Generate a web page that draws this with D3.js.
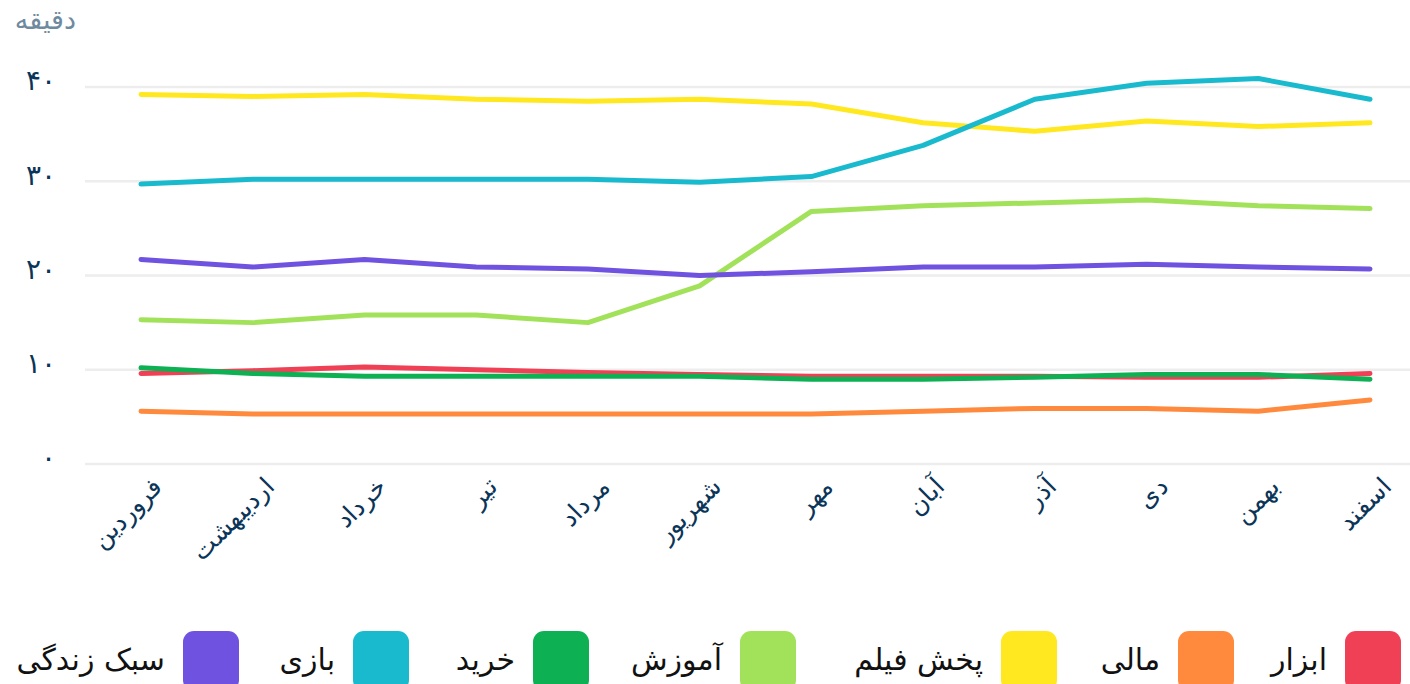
<!DOCTYPE html>
<html><head><meta charset="utf-8">
<script src="https://cdnjs.cloudflare.com/ajax/libs/d3/7.8.5/d3.min.js"></script>
<style>
html,body{margin:0;padding:0;background:#fff;overflow:hidden;}
svg{display:block;font-family:"DejaVu Sans","Noto Sans",sans-serif;}
</style></head>
<body><svg id="c" width="1410" height="684"></svg>
<script>
const months = ["فروردین","اردیبهشت","خرداد","تیر","مرداد","شهریور","مهر","آبان","آذر","دی","بهمن","اسفند"];
const yTicks = [0,10,20,30,40];
const seriesNames = ["ابزار","مالی","پخش فیلم","آموزش","خرید","بازی","سبک زندگی"];
const seriesColors = ["#ef4056","#ff8a3d","#ffe81f","#a2e25a","#0db154","#19bacd","#6f52e0"];
const abzar   = [9.6,9.9,10.3,10.0,9.7,9.5,9.3,9.3,9.3,9.2,9.2,9.6];
const mali    = [5.6,5.3,5.3,5.3,5.3,5.3,5.3,5.6,5.9,5.9,5.6,6.8];
const film    = [39.2,39.0,39.2,38.7,38.5,38.7,38.2,36.2,35.3,36.4,35.8,36.2];
const amuzesh = [15.3,15.0,15.8,15.8,15.0,18.9,26.8,27.4,27.7,28.0,27.4,27.1];
const kharid  = [10.2,9.6,9.3,9.3,9.3,9.3,9.0,9.0,9.2,9.5,9.5,9.0];
const bazi    = [29.7,30.2,30.2,30.2,30.2,29.9,30.5,33.8,38.7,40.4,40.9,38.7];
const sabk    = [21.7,20.9,21.7,20.9,20.7,20.0,20.4,20.9,20.9,21.2,20.9,20.7];
const seriesValues = [abzar,mali,film,amuzesh,kharid,bazi,sabk];
const yTitle = "دقیقه";

const fa = n => String(n).replace(/\d/g, d => "۰۱۲۳۴۵۶۷۸۹"[d]);
const svg = d3.select("#c");
const x = d3.scalePoint().domain(months).range([141,1370]);
const y = d3.scaleLinear().domain([0,40]).range([464,87]);

// grid
svg.append("g").selectAll("line").data(yTicks).join("line")
  .attr("x1",85).attr("x2",1410).attr("y1",d=>y(d)).attr("y2",d=>y(d))
  .attr("stroke","#ededed").attr("stroke-width",2.5);

// y axis
const yAxis = svg.append("g").attr("transform","translate(56,0)")
  .call(d3.axisLeft(y).tickValues(yTicks).tickFormat(fa).tickSize(0).tickPadding(0));
yAxis.select(".domain").remove();
yAxis.selectAll("text").attr("font-size",28).attr("fill","#0b3558")
  .attr("font-family","DejaVu Sans, sans-serif").attr("dy","0.1em");

svg.append("text").attr("x",76).attr("y",29).attr("text-anchor","end")
  .attr("font-size",27).attr("letter-spacing",2).attr("fill","#6e8a9e").text(yTitle);

// x axis
const xAxis = svg.append("g").attr("transform","translate(0,472)")
  .call(d3.axisBottom(x).tickSize(0).tickPadding(0));
xAxis.select(".domain").remove();
xAxis.selectAll("text").attr("font-size",25).attr("fill","#0b3558")
  .attr("text-anchor","end").attr("dy","0.7em")
  .attr("transform","translate(10,4) rotate(-45)");

// lines
const line = d3.line().x((d,i)=>x(months[i])).y(d=>y(d)).curve(d3.curveLinear);
svg.append("g").selectAll("path").data(seriesValues).join("path")
  .attr("d",line).attr("fill","none")
  .attr("stroke",(d,i)=>seriesColors[i]).attr("stroke-width",5)
  .attr("stroke-linecap","round").attr("stroke-linejoin","round");

// legend (RTL from right)
const legendRectX = [1345,1178,1001,740,533,353,183];
const lg = svg.append("g");
seriesNames.forEach((name,i)=>{
  const rx = legendRectX[i];
  lg.append("rect").attr("x",rx).attr("y",631).attr("width",56).attr("height",60)
    .attr("rx",11).attr("fill",seriesColors[i]);
  lg.append("text").attr("x",rx-18).attr("y",670).attr("text-anchor","end")
    .attr("font-size",30).attr("fill","#111").text(name);
});
</script></body></html>
